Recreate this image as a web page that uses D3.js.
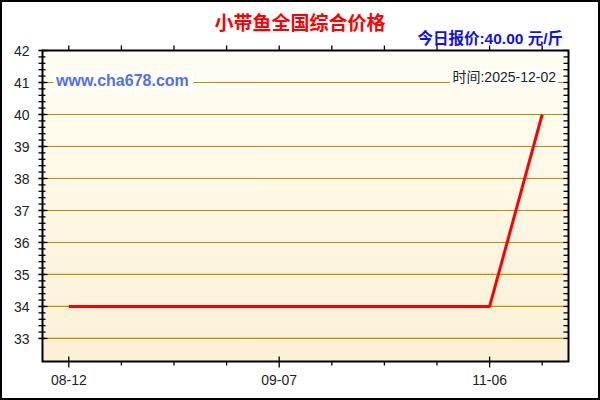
<!DOCTYPE html>
<html>
<head>
<meta charset="utf-8">
<script src="https://cdn.jsdelivr.net/npm/d3@7"></script>
<style>
  body { margin: 0; background: #fff; }
  text { font-family: Arial, "Liberation Sans", sans-serif; }
</style>
</head>
<body>
<div id="chart"></div>
<script>
// Chart Data
const dates = ["08-12", "08-19", "08-26", "09-01", "09-07", "09-22", "10-09", "10-22", "11-06", "12-02"];
const prices = [34, 34, 34, 34, 34, 34, 34, 34, 34, 40];
const labelEvery = 4;
const yTicks = [33, 34, 35, 36, 37, 38, 39, 40, 41, 42];
const titleText = "小带鱼全国综合价格";
const quoteText = "今日报价:40.00 元/斤";
const siteText = "www.cha678.com";
const timeText = "时间:2025-12-02";

// Dimensions
let w = 600, h = 400;
let plotL = 42.5, plotR = 568.5, plotT = 50.5, plotB = 361.5;

let svg = d3.select("#chart").append("svg").attr("width", w).attr("height", h);

// Background Gradient For Plot Area
let grad = svg.append("defs").append("linearGradient").attr("id", "bg")
  .attr("x1", 0).attr("y1", 0).attr("x2", 0).attr("y2", 1);
grad.append("stop").attr("offset", "0%").attr("stop-color", "#FFFEF4");
grad.append("stop").attr("offset", "100%").attr("stop-color", "#FCF0D6");

// Outer Border
svg.append("rect").attr("x", 1).attr("y", 1).attr("width", w - 2).attr("height", h - 2)
  .attr("fill", "#fff").attr("stroke", "#000").attr("stroke-width", 2);

// Scales
let x = d3.scalePoint().domain(d3.range(dates.length)).range([plotL, plotR]).padding(0.5);
let y = d3.scaleLinear().domain([32.28, 42]).range([plotB, plotT]);

svg.append("rect").attr("x", plotL).attr("y", plotT).attr("width", plotR - plotL).attr("height", plotB - plotT)
  .attr("fill", "url(#bg)");

// Gridlines
svg.append("g").selectAll("line").data(yTicks.filter(d => d < 42)).enter().append("line")
  .attr("x1", plotL).attr("x2", plotR)
  .attr("y1", d => y(d)).attr("y2", d => y(d))
  .attr("stroke", "#BF8F00").attr("stroke-width", 1.2);

// Minor Ticks Every 0.2
let minor = d3.range(165, 211).map(d => d / 5);

// Left Axis
let leftAxis = svg.append("g").attr("transform", "translate(" + plotL + ",0)");
leftAxis.selectAll("line.minor").data(minor).enter().append("line")
  .attr("x1", -4).attr("x2", 3)
  .attr("y1", d => y(d)).attr("y2", d => y(d))
  .attr("stroke", "#000").attr("stroke-width", 1.3);
leftAxis.selectAll("line.major").data(yTicks).enter().append("line")
  .attr("x1", -4).attr("x2", 5)
  .attr("y1", d => y(d)).attr("y2", d => y(d))
  .attr("stroke", "#000").attr("stroke-width", 1.3);
leftAxis.selectAll("text").data(yTicks).enter().append("text")
  .attr("x", -13).attr("y", d => y(d)).attr("dy", "0.36em")
  .attr("text-anchor", "end").attr("font-size", 14).attr("fill", "#222")
  .text(d => d);

// Right Axis Ticks (Inward)
svg.append("g").selectAll("line").data(minor).enter().append("line")
  .attr("x1", plotR - 5).attr("x2", plotR)
  .attr("y1", d => y(d)).attr("y2", d => y(d))
  .attr("stroke", "#000").attr("stroke-width", 1.3);

// Top Axis Ticks (Outward)
svg.append("g").selectAll("line").data(d3.range(dates.length)).enter().append("line")
  .attr("x1", d => x(d)).attr("x2", d => x(d))
  .attr("y1", plotT - 5).attr("y2", plotT)
  .attr("stroke", "#000").attr("stroke-width", 1.3);

// Bottom Axis Ticks & Labels
let bottomAxis = svg.append("g");
bottomAxis.selectAll("line").data(d3.range(dates.length)).enter().append("line")
  .attr("x1", d => x(d)).attr("x2", d => x(d))
  .attr("y1", d => d % labelEvery == 0 ? plotB - 5 : plotB)
  .attr("y2", d => d % labelEvery == 0 ? plotB + 6 : plotB + 4)
  .attr("stroke", "#000").attr("stroke-width", 1.3);
bottomAxis.selectAll("text").data(d3.range(dates.length).filter(d => d % labelEvery == 0)).enter().append("text")
  .attr("x", d => x(d)).attr("y", 385)
  .attr("text-anchor", "middle").attr("font-size", 14).attr("fill", "#222")
  .text(d => dates[d]);

// Plot Frame
svg.append("rect").attr("x", plotL).attr("y", plotT).attr("width", plotR - plotL).attr("height", plotB - plotT)
  .attr("fill", "none").attr("stroke", "#000").attr("stroke-width", 2);

// Watermark Texts With White Backing
let site = svg.append("g");
site.append("rect").attr("x", 53).attr("y", 71).attr("width", 140).attr("height", 19).attr("fill", "#fff");
site.append("text").attr("x", 56).attr("y", 86)
  .attr("font-size", 16).attr("font-weight", "bold").attr("fill", "#5070EE").text(siteText);

let time = svg.append("g");
time.append("rect").attr("x", 450).attr("y", 70).attr("width", 108).attr("height", 15).attr("fill", "#fff");
time.append("text").attr("x", 556).attr("y", 82).attr("text-anchor", "end")
  .attr("font-size", 14).attr("fill", "#222")
  .style("font-family", "Arial, 'Noto Sans CJK SC', sans-serif").text(timeText);

// Price Line
let line = d3.line().x((d, i) => x(i)).y(d => y(d));
svg.append("path").datum(prices)
  .attr("d", line).attr("fill", "none")
  .attr("stroke", "#FF0000").attr("stroke-width", 3).attr("stroke-linejoin", "round");

// Title & Quote
svg.append("text").attr("x", 300).attr("y", 30).attr("text-anchor", "middle")
  .attr("font-size", 19).attr("font-weight", "bold").attr("fill", "#FF0000")
  .style("font-family", "'Noto Sans CJK SC', sans-serif").text(titleText);
svg.append("text").attr("x", 563).attr("y", 44).attr("text-anchor", "end")
  .attr("font-size", 15.5).attr("font-weight", "bold").attr("fill", "#1010E6")
  .style("font-family", "Arial, 'Noto Sans CJK SC', sans-serif").text(quoteText);
</script>
</body>
</html>
